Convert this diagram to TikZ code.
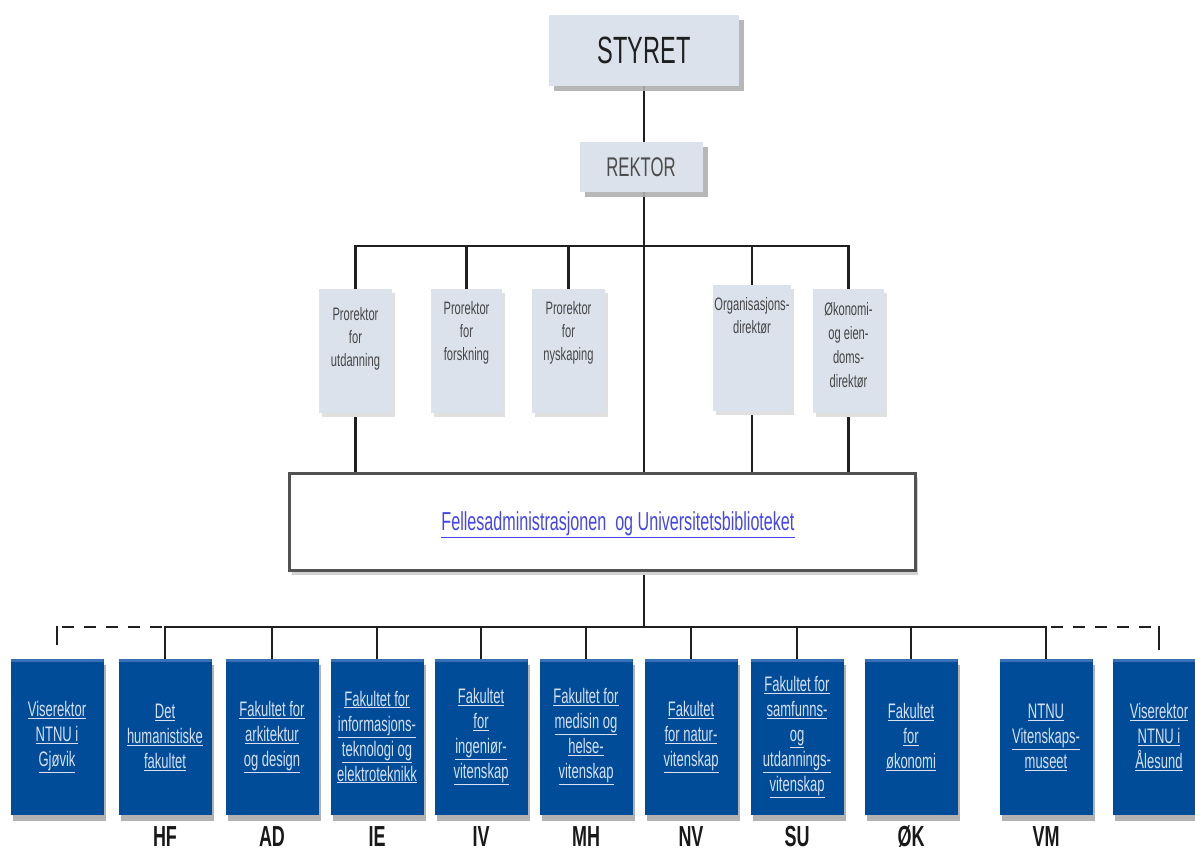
\documentclass[tikz,border=0pt]{standalone}
\usepackage{fontspec}
\setmainfont[FakeStretch=0.62]{Liberation Sans}
\usetikzlibrary{shadows}
\definecolor{boxblue}{RGB}{0,76,153}
\definecolor{topblue}{RGB}{55,112,182}
\definecolor{paleblue}{RGB}{220,226,236}
\definecolor{linktxt}{RGB}{214,224,242}
\definecolor{felleslink}{RGB}{70,70,235}
\definecolor{shadowgray}{RGB}{175,175,175}
\definecolor{protxt}{RGB}{70,70,70}
\newcommand{\myul}[1]{\underline{#1}}
\pgfdeclarelayer{bg}
\pgfsetlayers{bg,main}
\begin{document}
\begin{tikzpicture}[x=1pt,y=-1pt,
  conn/.style={line width=2.9pt, black!88},
  dashconn/.style={conn, dash pattern=on 12pt off 10pt, dash phase=17pt},
  headbox/.style={fill=paleblue, inner sep=0pt,
    drop shadow={shadow xshift=5pt, shadow yshift=-5pt, fill=shadowgray, opacity=0.9}},
  probox/.style={fill=paleblue, inner sep=0pt, minimum height=124pt,
    drop shadow={shadow xshift=3pt, shadow yshift=-4pt, fill=black!12, opacity=1}},
  protext/.style={anchor=north, inner sep=0pt, align=center, text=protxt,
    font=\fontsize{18}{23}\selectfont},
  facbox/.style={fill=boxblue, inner sep=0pt, minimum width=93pt, minimum height=156pt,
    align=center, text=linktxt, font=\fontsize{21}{25}\selectfont,
    path picture={\fill[topblue] (path picture bounding box.north west) rectangle ([yshift=-3pt]path picture bounding box.north east);},
    drop shadow={shadow xshift=2pt, shadow yshift=-6pt, fill=black!30, opacity=1}},
  lbl/.style={anchor=base, inner sep=0pt, font=\fontsize{29}{29}\selectfont\bfseries, text=black!90}
]
\useasboundingbox (0,0) rectangle (1195,852);

% top boxes
\node[headbox, minimum width=190pt, minimum height=71pt, font=\fontsize{38}{38}\selectfont, text=black!88] (styret) at (644,50.5) {STYRET};
\node[headbox, minimum width=123pt, minimum height=50pt, font=\fontsize{27}{27}\selectfont, text=black!70] (rektor) at (641,167) {REKTOR};

% prorektor / director boxes
\node[probox, minimum width=73pt] (p1) at (355.5,351) {};
\node[probox, minimum width=71pt] (p2) at (466.5,351) {};
\node[probox, minimum width=73pt] (p3) at (568.5,351) {};
\node[probox, minimum width=78pt, minimum height=126pt] (p4) at (752,348) {};
\node[probox, minimum width=71pt] (p5) at (848.5,351) {};
\node[protext] (t1) at (355.5,307) {Prorektor\\for\\utdanning};
\node[protext] (t2) at (466.5,301) {Prorektor\\for\\forskning};
\node[protext] (t3) at (568.5,301) {Prorektor\\for\\nyskaping};
\node[protext] (t4) at (752,297) {Organisasjons-\\direktør};
\node[protext, font=\fontsize{18}{24}\selectfont] (t5) at (848.5,302.5) {Økonomi-\\og eien-\\doms-\\direktør};

% fellesadministrasjon
\node[draw=black!68, line width=3pt, fill=white, minimum width=626pt, minimum height=97pt, inner sep=0pt,
  drop shadow={shadow xshift=3pt, shadow yshift=-5pt, fill=black!18, opacity=1}] (felles) at (602,521.5) {};
\node[inner sep=0pt, text=felleslink, font=\fontsize{26}{26}\selectfont] (fellestxt) at (618,525)
  {\myul{Fellesadministrasjonen\ \ og Universitetsbiblioteket}};

% faculties
\node[facbox] (gjovik) at (57,737) {\myul{Viserektor}\\\myul{NTNU i}\\\myul{Gjøvik}};
\node[facbox] (hf) at (165,737) {\myul{Det}\\\myul{humanistiske}\\\myul{fakultet}};
\node[facbox] (ad) at (272,737) {\myul{Fakultet for}\\\myul{arkitektur}\\\myul{og design}};
\node[facbox] (ie) at (377,737) {\myul{Fakultet for}\\\myul{informasjons-}\\\myul{teknologi og}\\\myul{elektroteknikk}};
\node[facbox] (iv) at (481,737) {\myul{Fakultet}\\\myul{for}\\\myul{ingeniør-}\\\myul{vitenskap}};
\node[facbox] (mh) at (586,737) {\myul{Fakultet for}\\\myul{medisin og}\\\myul{helse-}\\\myul{vitenskap}};
\node[facbox] (nv) at (691,737) {\myul{Fakultet}\\\myul{for natur-}\\\myul{vitenskap}};
\node[facbox] (su) at (797,737) {\myul{Fakultet for}\\\myul{samfunns-}\\\myul{og}\\\myul{utdannings-}\\\myul{vitenskap}};
\node[facbox] (ok) at (911,737) {\myul{Fakultet}\\\myul{for}\\\myul{økonomi}};
\node[facbox] (vm) at (1046,737) {\myul{NTNU}\\\myul{Vitenskaps-}\\\myul{museet}};
\node[facbox] (alesund) at (1159,737) {\myul{Viserektor}\\\myul{NTNU i}\\\myul{Ålesund}};

% labels
\node[lbl] (lhf) at (165,846) {HF};
\node[lbl] (lad) at (272,846) {AD};
\node[lbl] (lie) at (377,846) {IE};
\node[lbl] (liv) at (481,846) {IV};
\node[lbl] (lmh) at (586,846) {MH};
\node[lbl] (lnv) at (691,846) {NV};
\node[lbl] (lsu) at (797,846) {SU};
\node[lbl] (lok) at (911,846) {ØK};
\node[lbl] (lvm) at (1046,846) {VM};

\coordinate (bar) at (644,246);
\coordinate (bar2) at (644,627);
\coordinate (gl) at (57,645);
\coordinate (gr) at (1159,650);

\begin{pgfonlayer}{bg}
\draw[conn] (styret.south) -- (styret.south |- felles.north);
\draw[conn] (p1.north) |- (bar) -| (p5.north);
\draw[conn] (p2.north) -- (p2.north |- bar);
\draw[conn] (p3.north) -- (p3.north |- bar);
\draw[conn] (p4.north) -- (p4.north |- bar);
\draw[conn] (p1.south) -- (p1.south |- felles.north);
\draw[conn] (p4.south) -- (p4.south |- felles.north);
\draw[conn] (p5.south) -- (p5.south |- felles.north);
\draw[conn] (felles.south -| bar2) -- (bar2);
\draw[conn] (hf.north) |- (bar2) -| (vm.north);
\draw[conn] (ad.north) -- (ad.north |- bar2);
\draw[conn] (ie.north) -- (ie.north |- bar2);
\draw[conn] (iv.north) -- (iv.north |- bar2);
\draw[conn] (mh.north) -- (mh.north |- bar2);
\draw[conn] (nv.north) -- (nv.north |- bar2);
\draw[conn] (su.north) -- (su.north |- bar2);
\draw[conn] (ok.north) -- (ok.north |- bar2);
\draw[conn] (gl) -- ([yshift=1.4pt]gl |- bar2);
\draw[dashconn] (gl |- bar2) -- (hf.north |- bar2);
\draw[conn] (gr) -- ([yshift=1.4pt]gr |- bar2);
\draw[dashconn] (vm.north |- bar2) -- (gr |- bar2);
\end{pgfonlayer}
\end{tikzpicture}
\end{document}
